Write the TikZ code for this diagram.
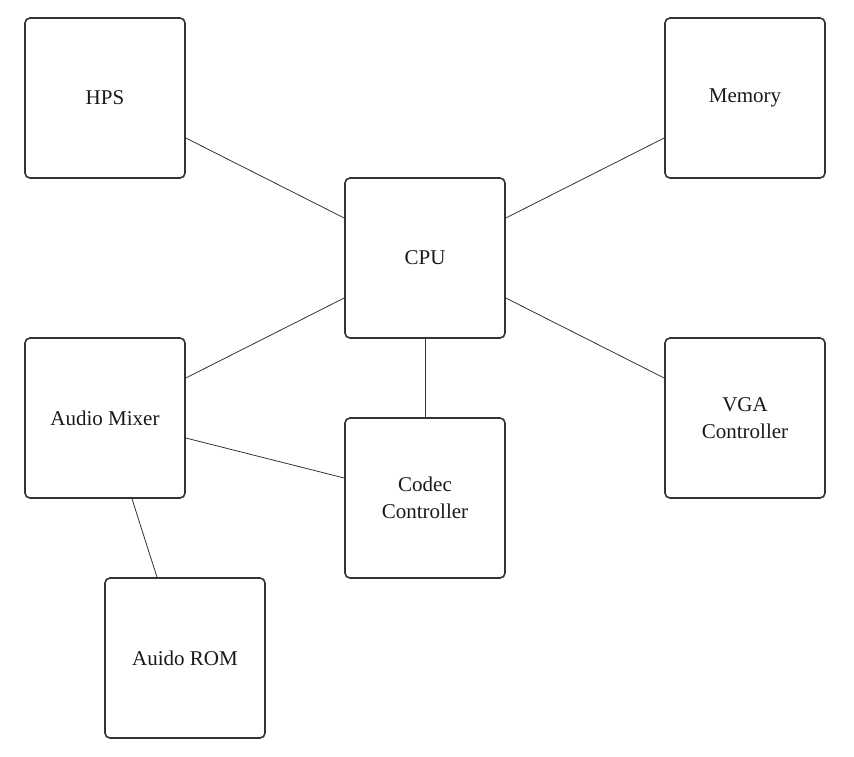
\documentclass[tikz,border=0pt]{standalone}
\usepackage{fontspec}
\setmainfont{Liberation Serif}
\begin{document}
\begin{tikzpicture}[x=1pt,y=-1pt,
  blk/.style={draw=black!80, line width=1.6pt, rounded corners=5pt, minimum width=160pt, minimum height=160pt, inner sep=0pt, align=center, font=\fontsize{21}{27}\selectfont, text=black!90},
  lnk/.style={draw=black!80, line width=0.8pt}]
\useasboundingbox (0,0) rectangle (854,756);
\node[blk] (hps) at (105,98) {HPS};
\node[blk] (mem) at (745,98) {Memory};
\node[blk] (cpu) at (425,258) {CPU};
\node[blk] (mix) at (105,418) {Audio Mixer};
\node[blk] (vga) at (745,418) {VGA\\Controller};
\node[blk] (codec) at (425,498) {Codec\\Controller};
\node[blk] (rom) at (185,658) {Auido ROM};
\draw[lnk] (hps.east |- 0,138) -- (cpu.west |- 0,218);
\draw[lnk] (mem.west |- 0,138) -- (cpu.east |- 0,218);
\draw[lnk] (cpu.west |- 0,298) -- (mix.east |- 0,378);
\draw[lnk] (cpu.east |- 0,298) -- (vga.west |- 0,378);
\draw[lnk] (cpu.south) -- (codec.north);
\draw[lnk] (mix.east |- 0,438) -- (codec.west |- 0,478);
\draw[lnk] (mix.south -| 132,0) -- (rom.north -| 157,0);
\end{tikzpicture}
\end{document}
